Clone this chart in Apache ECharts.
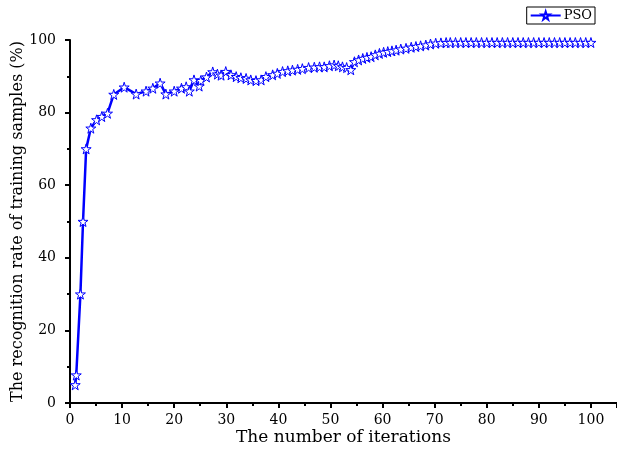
<!DOCTYPE html>
<html>
<head>
<meta charset="utf-8">
<script src="https://cdn.jsdelivr.net/npm/echarts@6/dist/echarts.min.js"></script>
<style>
  html, body { margin: 0; padding: 0; background: #fff; }
  #chart { width: 617px; height: 453px; }
</style>
</head>
<body>
<div id="chart"></div>
<script>
// iterations (x) and recognition rate (y)
var iterations = [1, 1.2, 2, 2.5, 3.1, 4, 5.1, 6.1, 7.2, 8.4, 10.4, 12.7, 14.6, 15.9, 17.3, 18.4, 20, 21.4, 22.3, 22.9, 23.8, 24.8, 25.1, 26.2, 27.4, 28.3, 29, 29.9, 30.9, 31.9, 32.8, 33.8, 34.7, 35.7, 36.7, 37.6, 38.9, 39.8, 40.8, 41.8, 42.7, 43.7, 44.6, 45.8, 46.9, 47.9, 48.8, 49.8, 50.7, 51.5, 52.3, 53.1, 53.9, 54.6, 55.4, 56.2, 57, 57.8, 58.6, 59.4, 60.2, 61, 61.8, 62.6, 63.5, 64.5, 65.5, 66.4, 67.3, 68.3, 69.2, 70.2, 71.2, 72.2, 73, 74, 75, 76, 77, 78, 79, 80, 81, 82, 83, 84, 85, 86, 87, 88, 89, 90, 91, 92, 93, 94, 95, 96, 97, 98, 99, 100];
var rates = [5, 7.7, 30, 50, 70, 75.7, 78, 78.9, 79.8, 85, 87, 85.1, 85.9, 86.7, 88.1, 85.1, 85.9, 86.7, 87.1, 85.9, 89, 87.3, 88.8, 89.8, 91.2, 90.6, 90.3, 91.3, 90.4, 89.9, 89.6, 89.4, 89, 88.8, 89, 89.9, 90.4, 90.8, 91.3, 91.5, 91.7, 91.9, 92.1, 92.4, 92.5, 92.6, 92.6, 92.9, 93.1, 92.9, 92.6, 92.4, 91.8, 94, 94.5, 94.9, 95.2, 95.4, 95.9, 96.3, 96.6, 96.8, 97, 97.2, 97.5, 97.7, 98, 98.2, 98.4, 98.6, 98.9, 99.1, 99.2, 99.3, 99.3, 99.3, 99.3, 99.3, 99.3, 99.3, 99.3, 99.3, 99.3, 99.3, 99.3, 99.3, 99.3, 99.3, 99.3, 99.3, 99.3, 99.3, 99.3, 99.3, 99.3, 99.3, 99.3, 99.3, 99.3, 99.3, 99.3, 99.3];

var star = 'path://M50,0 L61,35 L98,35 L68,57 L79,91 L50,70 L21,91 L32,57 L2,35 L39,35 Z';
var fontFamily = '"DejaVu Serif", "Liberation Serif", serif';

var points = [];
for (var i = 0; i < iterations.length; i++) {
  points.push([iterations[i], rates[i]]);
}

var chart = echarts.init(document.getElementById('chart'));
chart.setOption({
  backgroundColor: '#fff',
  animation: false,
  textStyle: { fontFamily: fontFamily },
  legend: {
    right: 22,
    top: 7,
    padding: [2, 3, 2, 3],
    borderColor: '#000',
    borderWidth: 1,
    itemWidth: 30,
    itemHeight: 10,
    itemGap: 4,
    textStyle: { fontFamily: fontFamily, fontSize: 13, color: '#000', padding: [0, 0, 0, -2] },
    data: ['PSO']
  },
  grid: {
    left: 70,
    right: 0,
    top: 40,
    bottom: 50,
    containLabel: false,
    outerBoundsMode: 'none'
  },
  xAxis: {
    type: 'value',
    min: 0,
    max: 105,
    interval: 10,
    name: 'The number of iterations',
    nameLocation: 'middle',
    nameGap: 26,
    nameMoveOverlap: false,
    nameTextStyle: { fontFamily: fontFamily, fontSize: 17, color: '#000' },
    axisLine: { onZero: false, lineStyle: { color: '#000', width: 2 } },
    axisTick: { inside: false, length: 5, lineStyle: { color: '#000', width: 2 } },
    minorTick: { show: true, splitNumber: 2, length: 3, lineStyle: { color: '#000', width: 2 } },
    axisLabel: { margin: 10, fontSize: 14, color: '#000', showMaxLabel: false, fontFamily: fontFamily },
    splitLine: { show: false }
  },
  yAxis: {
    type: 'value',
    min: 0,
    max: 100,
    interval: 20,
    name: 'The recognition rate of training samples (%)',
    nameLocation: 'middle',
    nameGap: 44,
    nameMoveOverlap: false,
    nameTextStyle: { fontFamily: fontFamily, fontSize: 16, color: '#000' },
    axisLine: { show: true, lineStyle: { color: '#000', width: 2 } },
    axisTick: { show: true, inside: false, length: 5, lineStyle: { color: '#000', width: 2 } },
    minorTick: { show: true, splitNumber: 2, length: 3, lineStyle: { color: '#000', width: 2 } },
    axisLabel: { margin: 14, fontSize: 14, color: '#000', fontFamily: fontFamily },
    splitLine: { show: false }
  },
  series: [{
    name: 'PSO',
    type: 'line',
    data: points,
    symbol: star,
    symbolSize: 10,
    showAllSymbol: true,
    lineStyle: { color: '#0000ff', width: 2.5 },
    itemStyle: { color: '#ffffff', borderColor: '#0000ff', borderWidth: 1 }
  }]
});
</script>
</body>
</html>
